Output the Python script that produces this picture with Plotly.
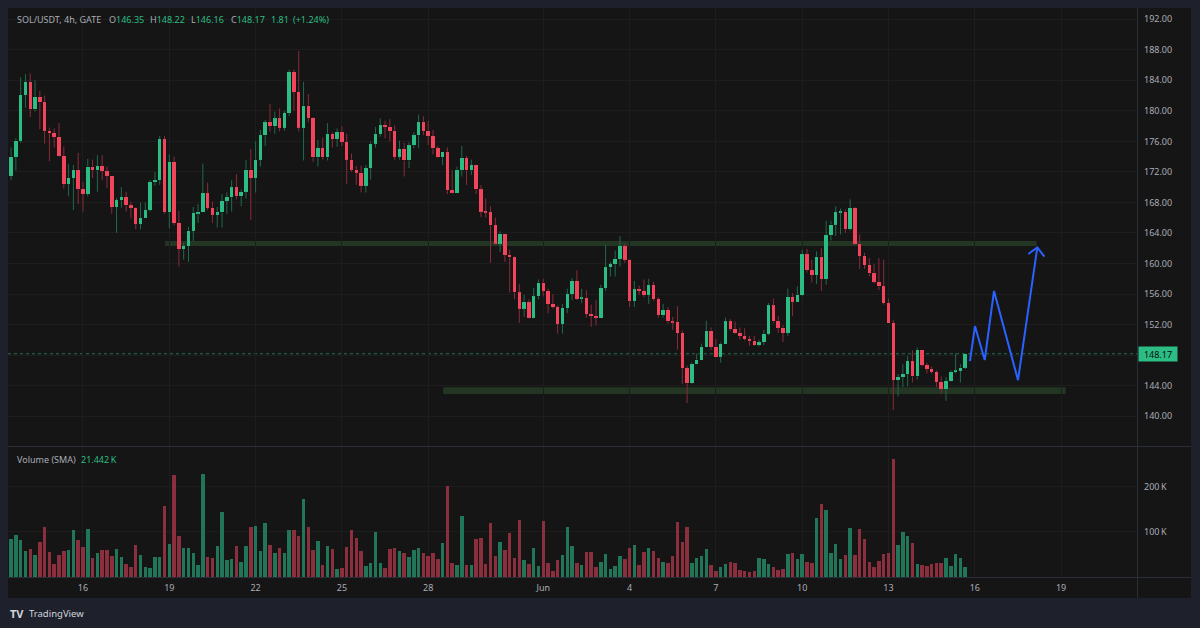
import pandas as pd
import plotly.graph_objects as go

# ---------------- data (SOL/USDT 4h, GATE) ----------------
START = "2024-05-13 12:00"

opens = [
    171.5, 174.0, 176.1, 182.1, 183.8, 180.2, 181.8, 181.1, 177.4, 177.1,
    176.6, 174.1, 170.4, 171.2, 172.3, 169.8, 169.1, 172.7, 172.2, 172.8,
    172.1, 171.5, 167.4, 168.3, 168.7, 167.6, 167.3, 165.2, 165.9, 167.0,
    170.7, 170.9, 176.3, 166.7, 173.3, 165.3, 161.9, 162.3, 164.3, 166.6,
    166.8, 169.2, 167.3, 166.4, 166.7, 168.2, 168.7, 170.0, 168.8, 169.4,
    172.3, 171.2, 173.6, 176.8, 178.5, 178.0, 179.0, 177.8, 179.7, 185.1,
    182.5, 177.8, 180.7, 179.1, 173.9, 175.1, 173.9, 177.0, 176.3, 177.2,
    175.9, 173.6, 172.3, 171.9, 170.2, 172.5, 175.7, 177.0, 178.1, 177.9,
    177.4, 174.0, 175.0, 173.5, 175.5, 176.8, 178.5, 177.4, 176.7, 175.1,
    173.9, 174.6, 169.6, 169.3, 172.3, 173.8, 172.2, 172.9, 169.7, 166.8,
    166.7, 165.0, 162.6, 163.9, 161.1, 160.8, 156.2, 154.1, 155.0, 152.9,
    155.7, 157.5, 156.4, 154.7, 154.3, 152.1, 154.2, 156.0, 157.7, 155.4,
    155.5, 153.4, 153.1, 152.9, 156.8, 159.5, 159.9, 160.6, 162.3, 160.5,
    155.1, 156.6, 156.4, 155.9, 157.2, 155.3, 153.2, 153.9, 152.4, 152.3,
    150.9, 146.3, 144.3, 146.8, 147.4, 149.1, 151.2, 149.1, 147.8, 149.5,
    152.4, 151.4, 150.9, 150.5, 150.1, 149.9, 149.3, 149.7, 150.8, 154.5,
    152.4, 151.6, 150.9, 155.6, 155.0, 155.9, 161.2, 159.1, 158.5, 160.9,
    158.0, 163.7, 165.1, 166.7, 166.8, 164.5, 167.3, 162.6, 161.0, 159.8,
    158.7, 157.6, 157.0, 154.8, 152.2, 144.7, 145.1, 145.5, 147.2, 145.2,
    148.7, 146.7, 146.2, 145.8, 144.5, 143.5, 144.6, 145.8, 145.9, 146.35,
]

highs = [
    175.2, 176.4, 184.4, 184.8, 184.9, 184.0, 182.6, 182.0, 177.8, 177.7,
    178.4, 175.3, 173.0, 172.9, 174.5, 170.7, 173.7, 173.6, 174.2, 174.2,
    172.7, 171.5, 168.6, 170.0, 169.4, 168.1, 167.4, 168.0, 168.0, 170.9,
    172.0, 176.7, 176.7, 174.3, 174.0, 166.9, 162.7, 164.8, 167.4, 167.8,
    173.1, 170.6, 168.1, 167.4, 169.1, 169.3, 170.9, 171.7, 169.7, 173.6,
    175.0, 176.0, 177.5, 178.8, 180.9, 179.9, 180.3, 180.0, 185.4, 185.4,
    187.8, 183.8, 182.2, 179.2, 176.2, 176.5, 178.4, 177.2, 177.7, 178.0,
    177.0, 174.4, 172.8, 172.8, 172.9, 176.0, 177.9, 179.0, 178.7, 178.9,
    178.1, 176.1, 175.8, 175.9, 177.2, 179.5, 179.3, 178.7, 177.5, 175.4,
    174.6, 175.2, 172.2, 172.7, 175.4, 174.1, 173.6, 172.9, 170.3, 168.5,
    167.5, 166.0, 164.2, 163.9, 161.8, 160.9, 157.3, 155.9, 155.3, 156.8,
    157.9, 158.0, 156.7, 156.0, 154.5, 154.7, 156.7, 158.1, 159.1, 156.7,
    156.5, 154.6, 155.2, 157.2, 162.4, 160.2, 161.7, 163.6, 162.6, 160.6,
    157.7, 157.1, 157.9, 158.0, 157.6, 155.6, 154.7, 154.3, 153.0, 154.4,
    151.2, 146.6, 147.0, 148.2, 149.5, 152.5, 151.6, 150.1, 149.7, 152.9,
    152.7, 152.4, 151.6, 151.5, 150.5, 150.5, 150.0, 151.3, 154.8, 155.4,
    153.1, 151.9, 156.7, 156.1, 157.0, 161.8, 161.9, 160.5, 161.6, 162.0,
    165.6, 165.6, 167.5, 167.2, 167.1, 168.4, 167.4, 163.8, 161.4, 160.7,
    159.9, 160.7, 160.5, 155.4, 152.6, 145.5, 146.8, 147.9, 148.6, 149.0,
    148.7, 147.0, 146.5, 146.0, 145.2, 145.1, 146.0, 148.2, 146.8, 148.22,
]

lows = [
    170.9, 172.2, 175.8, 180.4, 179.2, 179.9, 177.6, 175.7, 173.4, 175.2,
    174.0, 169.8, 168.8, 167.0, 167.8, 166.8, 168.8, 171.2, 169.4, 170.9,
    169.9, 166.5, 164.0, 167.3, 166.8, 165.9, 164.5, 164.5, 165.9, 166.8,
    170.2, 170.3, 166.5, 164.6, 165.0, 159.6, 160.5, 160.2, 162.9, 165.3,
    166.8, 167.0, 165.3, 164.7, 164.7, 166.5, 166.8, 168.4, 167.5, 168.5,
    165.7, 169.3, 172.7, 175.4, 177.3, 177.0, 177.3, 177.4, 179.3, 180.0,
    177.3, 173.5, 178.5, 173.3, 172.7, 173.6, 173.5, 175.2, 175.3, 175.4,
    170.4, 172.0, 170.3, 169.3, 169.3, 171.0, 175.2, 176.6, 176.4, 176.0,
    173.6, 173.6, 171.4, 172.5, 175.1, 175.1, 176.8, 175.5, 174.3, 173.8,
    172.9, 169.1, 169.2, 169.3, 171.4, 170.3, 171.6, 169.1, 166.1, 166.0,
    160.1, 162.5, 161.5, 160.2, 156.2, 155.3, 152.2, 153.0, 152.8, 152.8,
    155.3, 155.7, 153.5, 154.1, 150.8, 150.8, 153.5, 155.2, 155.2, 154.8,
    152.9, 151.7, 151.9, 152.9, 156.4, 158.3, 158.3, 159.6, 160.1, 154.3,
    154.3, 155.9, 155.6, 154.7, 155.1, 152.9, 152.9, 152.1, 151.3, 148.7,
    144.2, 141.7, 144.2, 146.8, 147.4, 149.1, 148.7, 147.8, 147.0, 149.5,
    151.2, 150.8, 150.0, 149.9, 149.2, 149.2, 149.1, 149.3, 150.6, 152.2,
    150.9, 149.7, 150.5, 153.1, 155.0, 155.7, 158.8, 157.5, 157.3, 156.4,
    157.2, 163.0, 163.6, 163.8, 164.0, 164.3, 162.4, 159.3, 159.3, 158.3,
    157.4, 156.5, 154.6, 152.2, 140.8, 142.6, 143.8, 143.9, 144.4, 144.8,
    146.5, 145.6, 145.6, 143.8, 143.0, 142.0, 144.5, 145.6, 144.4, 146.16,
]

closes = [
    174.0, 176.1, 182.1, 183.8, 180.2, 181.8, 181.1, 177.4, 177.1, 176.6,
    174.1, 170.4, 171.2, 172.3, 169.8, 169.1, 172.7, 172.2, 172.8, 172.1,
    171.5, 167.4, 168.3, 168.7, 167.6, 167.3, 165.2, 165.9, 167.0, 170.7,
    170.9, 176.3, 166.7, 173.3, 165.3, 161.9, 162.3, 164.3, 166.6, 166.8,
    169.2, 167.3, 166.4, 166.7, 168.2, 168.7, 170.0, 168.8, 169.4, 172.3,
    171.2, 173.6, 176.8, 178.5, 178.0, 179.0, 177.8, 179.7, 185.1, 182.5,
    177.8, 180.7, 179.1, 173.9, 175.1, 173.9, 177.0, 176.3, 177.2, 175.9,
    173.6, 172.3, 171.9, 170.2, 172.5, 175.7, 177.0, 178.1, 177.9, 177.4,
    174.0, 175.0, 173.5, 175.5, 176.8, 178.5, 177.4, 176.7, 175.1, 173.9,
    174.6, 169.6, 169.3, 172.3, 173.8, 172.2, 172.9, 169.7, 166.8, 166.7,
    165.0, 162.6, 163.9, 161.1, 160.8, 156.2, 154.1, 155.0, 152.9, 155.7,
    157.5, 156.4, 154.7, 154.3, 152.1, 154.2, 156.0, 157.7, 155.4, 155.5,
    153.4, 153.1, 152.9, 156.8, 159.5, 159.9, 160.6, 162.3, 160.5, 155.1,
    156.6, 156.4, 155.9, 157.2, 155.3, 153.2, 153.9, 152.4, 152.3, 150.9,
    146.3, 144.3, 146.8, 147.4, 149.1, 151.2, 149.1, 147.8, 149.5, 152.4,
    151.4, 150.9, 150.5, 150.1, 149.9, 149.3, 149.7, 150.8, 154.5, 152.4,
    151.6, 150.9, 155.6, 155.0, 155.9, 161.2, 159.1, 158.5, 160.9, 158.0,
    163.7, 165.1, 166.7, 166.8, 164.5, 167.3, 162.6, 161.0, 159.8, 158.7,
    157.6, 157.0, 154.8, 152.2, 144.7, 145.1, 145.5, 147.2, 145.2, 148.7,
    146.7, 146.2, 145.8, 144.5, 143.5, 144.6, 145.8, 145.9, 146.36, 148.17,
]

volumes_k = [
    83.7, 92.6, 80.7, 57.7, 62.2, 48.8, 76.3, 110.3, 56.3, 28.9,
    48.8, 58.5, 60.0, 103.0, 82.2, 65.2, 105.9, 41.4, 52.6, 60.0,
    60.0, 47.4, 62.2, 45.2, 28.9, 22.9, 71.1, 48.8, 22.9, 19.2,
    45.2, 43.7, 156.3, 73.3, 225.1, 89.6, 63.7, 63.7, 52.6, 26.6,
    228.1, 43.7, 41.4, 67.4, 142.9, 37.7, 39.2, 68.9, 32.6, 68.9,
    110.3, 111.8, 58.5, 119.2, 71.1, 52.6, 63.7, 52.6, 103.0, 104.4,
    91.1, 173.3, 110.3, 60.0, 78.5, 26.6, 68.9, 62.2, 17.7, 19.2,
    65.2, 104.4, 85.9, 58.5, 24.4, 31.8, 100.0, 31.8, 20.0, 62.2,
    64.4, 58.5, 54.0, 45.2, 60.0, 63.7, 54.0, 47.4, 54.0, 39.2,
    74.8, 200.7, 31.8, 25.9, 134.0, 27.4, 25.9, 83.7, 85.9, 28.9,
    119.2, 47.4, 76.3, 60.0, 97.0, 41.4, 125.2, 37.7, 28.9, 64.4,
    24.4, 122.9, 31.8, 14.1, 37.7, 48.8, 110.3, 68.9, 31.8, 27.4,
    56.3, 54.8, 22.9, 32.6, 51.1, 17.7, 24.4, 47.4, 39.2, 63.7,
    71.1, 27.4, 55.5, 63.0, 57.7, 41.4, 34.1, 31.8, 45.9, 121.4,
    77.0, 109.6, 30.3, 41.4, 46.6, 61.5, 26.6, 14.1, 22.9, 28.9,
    32.6, 30.3, 15.5, 12.6, 11.1, 12.6, 41.4, 39.9, 28.9, 21.5,
    15.5, 17.0, 50.3, 52.6, 39.2, 50.3, 34.1, 31.8, 129.6, 162.2,
    148.9, 54.0, 73.3, 39.9, 48.1, 108.1, 48.1, 105.9, 83.7, 32.6,
    22.9, 34.8, 50.3, 54.0, 260.0, 71.1, 99.2, 91.1, 74.0, 28.9,
    25.9, 24.4, 28.9, 30.3, 31.1, 41.4, 24.4, 50.3, 42.9, 21.442,
]

# drawn support / resistance zones (start, end, low, high)
zone_starts = ["2024-05-18 20:30", "2024-05-28 12:30"]
zone_ends = ["2024-06-18 03:40", "2024-06-19 03:50"]
zone_lows = [162.3, 142.9]
zone_highs = [162.95, 143.77]

# drawn projection path (blue zig-zag) and arrow head
proj_times = ["2024-06-15 20:00", "2024-06-16 00:10", "2024-06-16 08:17",
              "2024-06-16 16:03", "2024-06-17 12:04", "2024-06-18 04:10"]
proj_prices = [147.2, 151.8, 147.35, 156.4, 144.7, 162.1]
arrow_times = ["2024-06-17 20:38", "2024-06-18 04:10", "2024-06-18 10:05"]
arrow_prices = [161.25, 162.1, 160.9]

tick_dates = ["2024-05-16", "2024-05-19", "2024-05-22", "2024-05-25", "2024-05-28",
              "2024-06-01", "2024-06-04", "2024-06-07", "2024-06-10", "2024-06-13",
              "2024-06-16", "2024-06-19"]
tick_labels = ["16", "19", "22", "25", "28", "Jun", "4", "7", "10", "13", "16", "19"]
price_ticks = [140, 144, 148, 152, 156, 160, 164, 168, 172, 176, 180, 184, 188, 192]
vol_ticks = [100000, 200000]
vol_tick_labels = ["100\u2009K", "200\u2009K"]

# ---------------- styling ----------------
W, H = 1200, 628
FONT = "Noto Sans"
UP, DN = "#2bbd84", "#f2455c"
UP_W, DN_W = "#1e6a4e", "#8c2a3a"
UP_V, DN_V = "#217659", "#8b2e3e"
TXT = "#a9acb5"
GRID = "#1d1d1d"
PANEL = "#151515"
FRAME = "#1e212b"
SEP = "#2a2e39"

def px_x(p):
    return p / W

def px_y(p):
    return 1 - p / H

times = pd.date_range(START, periods=len(closes), freq="4h")
is_up = [c >= o for o, c in zip(opens, closes)]

body_base = [min(o, c) for o, c in zip(opens, closes)]
body_len = [max(abs(c - o), 0.13) for o, c in zip(opens, closes)]
body_col = [UP if u else DN for u in is_up]

def wick_xy(want_up):
    xs, ys = [], []
    for t, o, h, l, c, u in zip(times, opens, highs, lows, closes, is_up):
        if u != want_up:
            continue
        top, bot = max(o, c), min(o, c)
        xs += [t, t, None, t, t, None]
        ys += [h, top, None, bot, l, None]
    return xs, ys

BAR_W = 2.9 * 3600 * 1000

fig = go.Figure()

for want, col in [(True, UP_W), (False, DN_W)]:
    wx, wy = wick_xy(want)
    fig.add_trace(go.Scatter(x=wx, y=wy, mode="lines", line=dict(color=col, width=1),
                             hoverinfo="skip", showlegend=False, xaxis="x", yaxis="y"))

fig.add_trace(go.Bar(x=times, y=body_len, base=body_base, width=BAR_W,
                     marker=dict(color=body_col, line=dict(width=0)),
                     hoverinfo="skip", showlegend=False, xaxis="x", yaxis="y"))

vt = times[:len(volumes_k)]
fig.add_trace(go.Bar(x=vt, y=[v * 1000 for v in volumes_k], width=BAR_W,
                     marker=dict(color=[UP_V if u else DN_V for u in is_up[:len(volumes_k)]],
                                 line=dict(width=0)),
                     hoverinfo="skip", showlegend=False, xaxis="x2", yaxis="y2"))

fig.add_trace(go.Scatter(x=proj_times, y=proj_prices, mode="lines",
                         line=dict(color="#2962ff", width=2), hoverinfo="skip",
                         showlegend=False, xaxis="x", yaxis="y"))
fig.add_trace(go.Scatter(x=arrow_times, y=arrow_prices, mode="lines",
                         line=dict(color="#2962ff", width=2), hoverinfo="skip",
                         showlegend=False, xaxis="x", yaxis="y"))

shapes = [
    # chart panel
    dict(type="rect", xref="paper", yref="paper", x0=px_x(8), x1=px_x(1191),
         y0=px_y(598), y1=px_y(8), fillcolor=PANEL, line=dict(width=0), layer="below"),
    # pane separators
    dict(type="line", xref="paper", yref="paper", x0=px_x(8), x1=px_x(1191),
         y0=px_y(446.5), y1=px_y(446.5), line=dict(color=SEP, width=1), layer="below"),
    dict(type="line", xref="paper", yref="paper", x0=px_x(8), x1=px_x(1191),
         y0=px_y(577.5), y1=px_y(577.5), line=dict(color=SEP, width=1), layer="below"),
    dict(type="line", xref="paper", yref="paper", x0=px_x(1137.5), x1=px_x(1137.5),
         y0=px_y(598), y1=px_y(8), line=dict(color=SEP, width=1), layer="below"),
]
for s, e, lo, hi in zip(zone_starts, zone_ends, zone_lows, zone_highs):
    shapes.append(dict(type="rect", xref="x", yref="y", x0=s, x1=e, y0=lo, y1=hi,
                       fillcolor="#233623", line=dict(width=0), layer="below"))
# last price dotted line
shapes.append(dict(type="line", xref="paper", yref="y", x0=px_x(8), x1=px_x(1137),
                   y0=closes[-1], y1=closes[-1],
                   line=dict(color="rgba(43,189,132,0.55)", width=1, dash="dot"),
                   layer="below"))

def ann(x, y, text, color=TXT, size=9, xanchor="left", **kw):
    d = dict(xref="paper", yref="paper", x=px_x(x), y=px_y(y), text=text,
             showarrow=False, xanchor=xanchor, yanchor="middle",
             font=dict(family=FONT, size=size, color=color))
    d.update(kw)
    return d

G = UP
chg = closes[-1] - closes[-2]
annotations = [
    ann(15, 20, "SOL/USDT, 4h, GATE"),
    ann(107, 20, f"O<span style='color:{G}'>{opens[-1]:.2f}</span>"),
    ann(148, 20, f"H<span style='color:{G}'>{highs[-1]:.2f}</span>"),
    ann(189, 20, f"L<span style='color:{G}'>{lows[-1]:.2f}</span>"),
    ann(228.5, 20, f"C<span style='color:{G}'>{closes[-1]:.2f}</span>"),
    ann(268.5, 20, f"{chg:.2f}", color=G),
    ann(291, 20, f"(+{chg / closes[-2] * 100:.2f}%)", color=G),
    ann(15, 459.5, "Volume (SMA)"),
    ann(79, 459.5, f"{volumes_k[-1]:.3f}\u2009K", color=G),
    ann(8, 613.5, "<b>TV</b>", color="#d1d4dc", size=11),
    ann(27, 613.5, "TradingView", color="#d1d4dc", size=9.5),
    dict(xref="paper", yref="y", x=px_x(1137.5), y=closes[-1], text=f"{closes[-1]:.2f}",
         showarrow=False, xanchor="left", yanchor="middle", bgcolor=G,
         font=dict(family=FONT, size=9, color="#0d0d0d"), width=36, height=12,
         borderpad=1, align="center"),
]

XR = ["2024-05-13 09:26", "2024-06-21 15:20"]
dom_x = [px_x(8), px_x(1137)]

fig.update_layout(
    width=W, height=H,
    margin=dict(l=0, r=0, t=0, b=0),
    paper_bgcolor=FRAME, plot_bgcolor="rgba(0,0,0,0)",
    barmode="overlay", bargap=0,
    showlegend=False,
    font=dict(family=FONT, size=9, color=TXT),
    shapes=shapes, annotations=annotations,
    xaxis=dict(domain=dom_x, anchor="y", type="date", range=XR,
               tickvals=tick_dates, showticklabels=False, ticks="",
               showgrid=True, gridcolor=GRID, gridwidth=1, zeroline=False,
               showline=False, fixedrange=True),
    yaxis=dict(domain=[px_y(446), px_y(8)], anchor="x", side="right",
               range=[136.08, 193.48], tickvals=price_ticks,
               ticktext=[f"{v:.2f}" for v in price_ticks], ticks="",
               ticklabelstandoff=6,
               tickfont=dict(family=FONT, size=9, color=TXT),
               showgrid=True, gridcolor=GRID, zeroline=False, showline=False),
    xaxis2=dict(domain=dom_x, anchor="y2", type="date", range=XR, matches="x",
                tickvals=tick_dates, ticktext=tick_labels, ticks="",
                ticklabelstandoff=4,
                tickfont=dict(family=FONT, size=9, color=TXT),
                showgrid=True, gridcolor=GRID, zeroline=False, showline=False),
    yaxis2=dict(domain=[px_y(577), px_y(447)], anchor="x2", side="right",
                range=[0, 287000], tickvals=vol_ticks, ticktext=vol_tick_labels,
                ticks="", ticklabelstandoff=6,
                tickfont=dict(family=FONT, size=9, color=TXT),
                showgrid=True, gridcolor=GRID, zeroline=False, showline=False),
)

fig.write_html("out.html")
